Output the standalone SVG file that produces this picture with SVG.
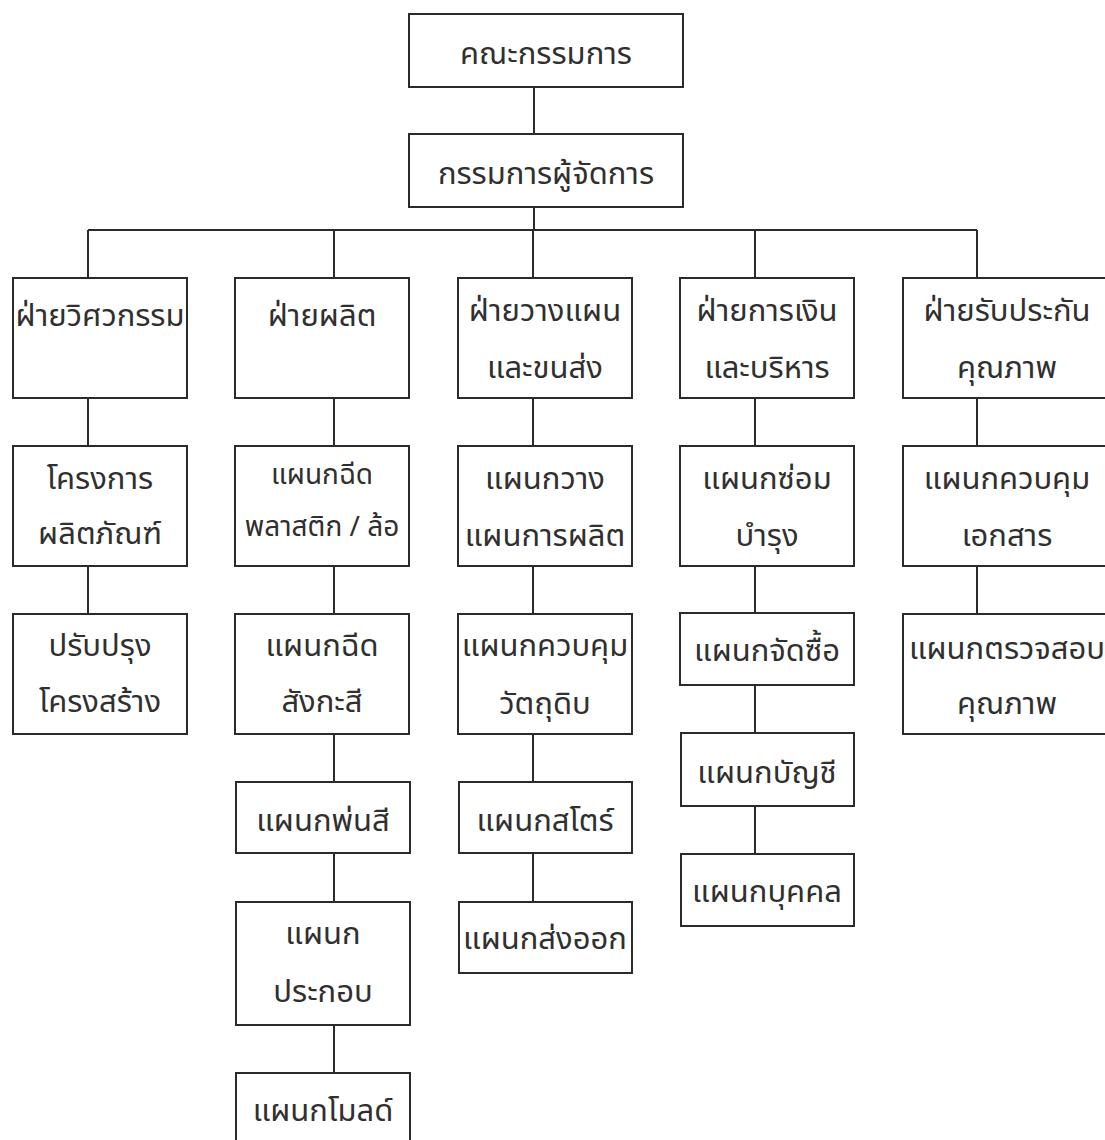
<svg xmlns="http://www.w3.org/2000/svg" width="1105" height="1140" viewBox="0 0 1105 1140">
<style>
.box{fill:#fff;stroke:#2b2b2b;stroke-width:2}
.con{stroke:#2b2b2b;stroke-width:2;fill:none}
text{font-family:"Noto Sans Thai","Noto Sans",sans-serif;font-size:31px;fill:#303030;text-anchor:middle}
</style>
<rect width="1105" height="1140" fill="#fff"/>
<g id="connectors" class="con">
<path d="M534 87V134M534 207V230M88 230H977M88 230V278M334 230V278M533 230V278M755 230V278M977 230V278"/>
<path d="M88 398V446M88 566V614"/>
<path d="M334 398V446M334 566V614M334 734V782M334 853V902M334 1025V1073"/>
<path d="M533 398V446M533 566V614M533 734V782M533 853V902"/>
<path d="M755 398V446M755 566V613M755 685V733M755 806V854"/>
<path d="M977 398V446M977 566V614"/>
</g>
<g id="n-board"><rect class="box" x="409" y="14" width="274" height="73"/><text x="546" y="64">คณะกรรมการ</text></g>
<g id="n-md"><rect class="box" x="409" y="134" width="274" height="73"/><text x="546" y="184">กรรมการผู้จัดการ</text></g>
<g id="n-eng"><rect class="box" x="13" y="278" width="174" height="120"/><text x="100" y="326">ฝ่ายวิศวกรรม</text></g>
<g id="n-prod"><rect class="box" x="235" y="278" width="174" height="120"/><text x="322" y="326">ฝ่ายผลิต</text></g>
<g id="n-plan"><rect class="box" x="458" y="278" width="174" height="120"/><text x="545" y="321">ฝ่ายวางแผน</text><text x="545" y="378">และขนส่ง</text></g>
<g id="n-fin"><rect class="box" x="680" y="278" width="174" height="120"/><text x="767" y="321">ฝ่ายการเงิน</text><text x="767" y="378">และบริหาร</text></g>
<g id="n-qa"><rect class="box" x="903" y="278" width="209" height="120"/><text x="1007" y="321">ฝ่ายรับประกัน</text><text x="1007" y="378">คุณภาพ</text></g>
<g id="n-project"><rect class="box" x="13" y="446" width="174" height="120"/><text x="100" y="489">โครงการ</text><text x="100" y="544">ผลิตภัณฑ์</text></g>
<g id="n-improve"><rect class="box" x="13" y="614" width="174" height="120"/><text x="100" y="656">ปรับปรุง</text><text x="100" y="712">โครงสร้าง</text></g>
<g id="n-plastic"><rect class="box" x="235" y="446" width="174" height="120"/><text x="322" y="484" style="font-size:28px">แผนกฉีด</text><text x="322" y="536" style="font-size:28px">พลาสติก / ล้อ</text></g>
<g id="n-zinc"><rect class="box" x="235" y="614" width="174" height="120"/><text x="322" y="656">แผนกฉีด</text><text x="322" y="712">สังกะสี</text></g>
<g id="n-paint"><rect class="box" x="236" y="782" width="174" height="71"/><text x="323" y="831">แผนกพ่นสี</text></g>
<g id="n-assembly"><rect class="box" x="236" y="902" width="174" height="123"/><text x="323" y="944">แผนก</text><text x="323" y="1002">ประกอบ</text></g>
<g id="n-mold"><rect class="box" x="236" y="1073" width="174" height="80"/><text x="323" y="1121">แผนกโมลด์</text></g>
<g id="n-prodplan"><rect class="box" x="458" y="446" width="174" height="120"/><text x="545" y="489">แผนกวาง</text><text x="545" y="546">แผนการผลิต</text></g>
<g id="n-raw"><rect class="box" x="458" y="614" width="174" height="120"/><text x="545" y="656">แผนกควบคุม</text><text x="545" y="714">วัตถุดิบ</text></g>
<g id="n-store"><rect class="box" x="459" y="782" width="173" height="71"/><text x="545" y="831">แผนกสโตร์</text></g>
<g id="n-ship"><rect class="box" x="459" y="902" width="173" height="71"/><text x="545" y="949">แผนกส่งออก</text></g>
<g id="n-maint"><rect class="box" x="680" y="446" width="174" height="120"/><text x="767" y="489">แผนกซ่อม</text><text x="767" y="546">บำรุง</text></g>
<g id="n-purchase"><rect class="box" x="680" y="613" width="174" height="72"/><text x="767" y="661">แผนกจัดซื้อ</text></g>
<g id="n-account"><rect class="box" x="681" y="733" width="173" height="73"/><text x="767" y="783">แผนกบัญชี</text></g>
<g id="n-hr"><rect class="box" x="681" y="854" width="173" height="72"/><text x="767" y="902">แผนกบุคคล</text></g>
<g id="n-doc"><rect class="box" x="903" y="446" width="209" height="120"/><text x="1007" y="489">แผนกควบคุม</text><text x="1007" y="546">เอกสาร</text></g>
<g id="n-qc"><rect class="box" x="903" y="614" width="209" height="120"/><text x="1007" y="659">แผนกตรวจสอบ</text><text x="1007" y="714">คุณภาพ</text></g>
</svg>
